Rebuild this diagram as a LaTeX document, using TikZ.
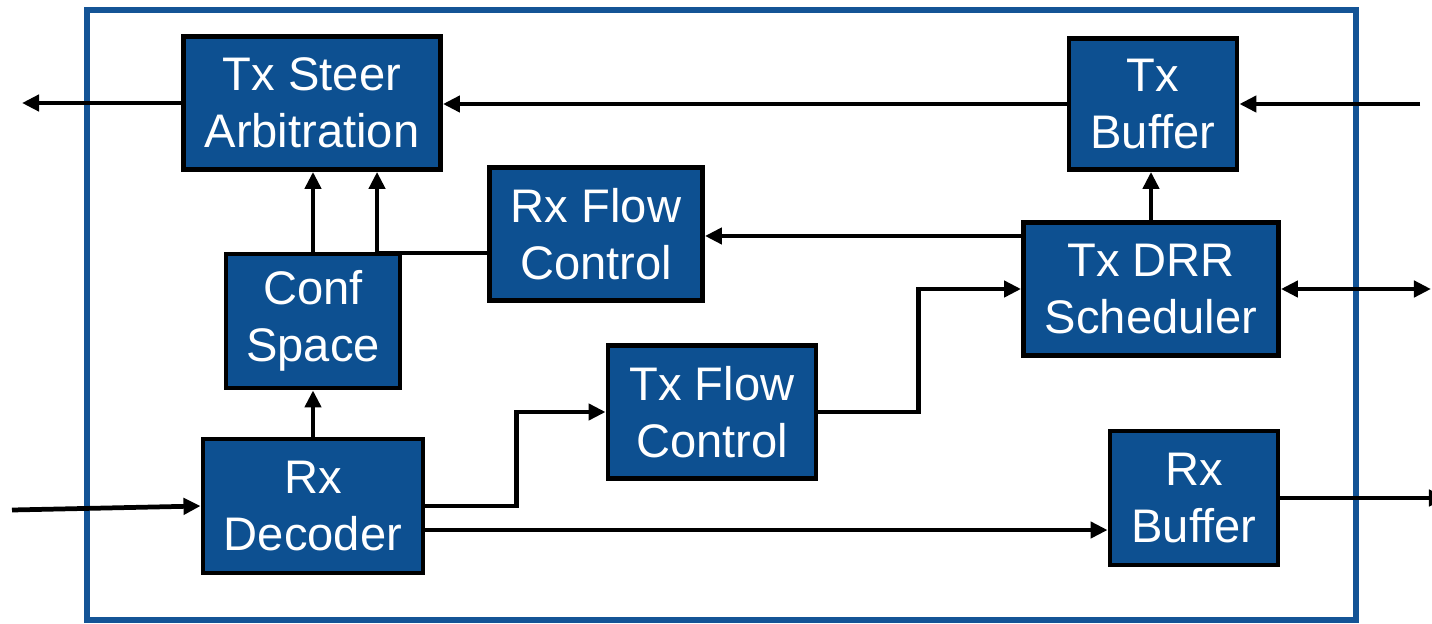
\documentclass[tikz,border=0pt]{standalone}
\usepackage{fontspec}
\setmainfont{Liberation Sans}
\usepackage{xcolor}
\usetikzlibrary{arrows.meta,calc}
\definecolor{boxblue}{RGB}{13,80,145}
\definecolor{frameblue}{RGB}{20,84,150}
\tikzset{
  blk/.style={draw=black, line width=1.35pt, fill=boxblue, text=white,
    align=center, inner sep=0pt, font=\fontsize{13.4}{16.2}\selectfont},
  flow/.style={line width=1.35pt, -{Triangle[length=0.17cm,width=0.16cm]}},
  flow2/.style={line width=1.35pt, {Triangle[length=0.17cm,width=0.16cm]}-{Triangle[length=0.17cm,width=0.16cm]}}
}

\begin{document}
\begin{tikzpicture}[x=0.01cm,y=-0.01cm]

  \useasboundingbox (0,0) rectangle (1432,624);
  \draw[frameblue, line width=1.6pt] (87,10) rectangle (1356,620);

  % blocks
  \node[blk, minimum width=2.57cm, minimum height=1.33cm] (steer) at (312,103) {Tx Steer\\Arbitration};
  \node[blk, minimum width=1.68cm, minimum height=1.31cm] (txbuf) at (1153,104) {Tx\\Buffer};
  \node[blk, minimum width=2.13cm, minimum height=1.33cm] (rxfc) at (596,234) {Rx Flow\\Control};
  \node[blk, minimum width=1.74cm, minimum height=1.34cm] (conf) at (313,321) {Conf\\Space};
  \node[blk, minimum width=2.55cm, minimum height=1.33cm] (drr) at (1151,289) {Tx DRR\\Scheduler};
  \node[blk, minimum width=2.08cm, minimum height=1.33cm] (txfc) at (712,412) {Tx Flow\\Control};
  \node[blk, minimum width=2.20cm, minimum height=1.34cm] (rxdec) at (313,506) {Rx\\Decoder};
  \node[blk, minimum width=1.68cm, minimum height=1.34cm] (rxbuf) at (1194,498) {Rx\\Buffer};

  % free ends
  \coordinate (outL) at (22,103);
  \coordinate (inL) at (12,510);
  \coordinate (inR) at (1420,104);
  \coordinate (ioR) at (1431,289);
  \coordinate (outR) at (1446,498);

  % connectors
  \draw[flow] (steer.west) -- (outL);
  \draw[flow] (txbuf.west) -- (txbuf.west -| steer.east);
  \draw[flow] (inR) -- (txbuf.east);
  \draw[flow] (drr.north) -- (drr.north |- txbuf.south);
  \draw[flow] ([yshift=0.53cm]drr.west) -- ([yshift=0.53cm]drr.west -| rxfc.east);
  \draw[flow] ([yshift=-0.19cm]rxfc.west) -| ([xshift=0.65cm]steer.south);
  \draw[flow] (conf.north) -- (conf.north |- steer.south);
  \draw[flow] (rxdec.north) -- (conf.south);
  \draw[flow] (inL) -- (rxdec.west);
  \draw[flow] (rxdec.east) -- ++(91,0) |- (txfc.west);
  \draw[flow] (txfc.east) -- ++(100,0) |- (drr.west);
  \draw[flow2] (drr.east) -- (ioR);
  \draw[flow] ([yshift=-0.24cm]rxdec.east) -- ([yshift=-0.24cm]rxdec.east -| rxbuf.west);
  \draw[flow] (rxbuf.east) -- (outR);

\end{tikzpicture}
\end{document}
